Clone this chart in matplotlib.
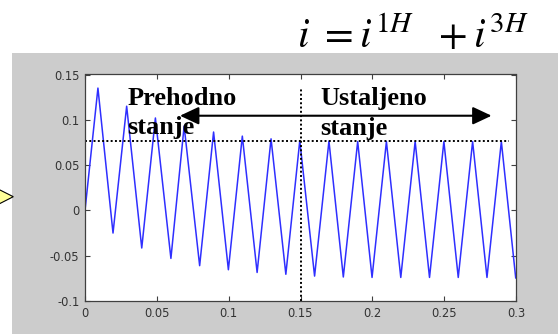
import matplotlib.pyplot as plt
from matplotlib.patches import FancyArrowPatch, ArrowStyle, Polygon, Rectangle

# extremes of the current waveform (time in s, current)
t_points = [0.0, 0.009, 0.0195, 0.029, 0.0395, 0.049, 0.0598, 0.069, 0.0798,
            0.0895, 0.0998, 0.1095, 0.1198, 0.1295, 0.1398, 0.1495, 0.1598,
            0.1698, 0.1798, 0.1898, 0.1998, 0.2098, 0.2198, 0.2298, 0.2398,
            0.2498, 0.2598, 0.2698, 0.2798, 0.2898, 0.2998]
i_points = [0.0, 0.135, -0.025, 0.115, -0.0415, 0.102, -0.053, 0.093, -0.061,
            0.0865, -0.0655, 0.082, -0.0685, 0.079, -0.0705, 0.077, -0.0725,
            0.0765, -0.0735, 0.076, -0.074, 0.076, -0.074, 0.076, -0.074,
            0.076, -0.074, 0.076, -0.074, 0.076, -0.0745]

steady_level = 0.0765
split_time = 0.15
xticks = [0, 0.05, 0.1, 0.15, 0.2, 0.25, 0.3]
xtick_labels = ["0", "0.05", "0.1", "0.15", "0.2", "0.25", "0.3"]
yticks = [-0.1, -0.05, 0, 0.05, 0.1, 0.15]
ytick_labels = ["-0.1", "-0.05", "0", "0.05", "0.1", "0.15"]

plt.rcParams["mathtext.fontset"] = "stix"

W, H = 558, 334
fig = plt.figure(figsize=(W / 100, H / 100), dpi=100)
fig.patch.set_facecolor("white")

# matlab figure background
fig.patches.append(Rectangle((12 / W, 0), 1 - 12 / W, 1 - 52.7 / H,
                             transform=fig.transFigure, facecolor="#cccccc",
                             edgecolor="none", zorder=0))
# yellow pointer cut at the left edge
fig.patches.append(Polygon([(-3 / W, 1 - 188.5 / H), (13.3 / W, 1 - 196.7 / H),
                            (-3 / W, 1 - 205 / H)], closed=True,
                           transform=fig.transFigure, facecolor="#ffff99",
                           edgecolor="black", lw=0.8, zorder=1))

ax = fig.add_axes([85 / W, 1 - 301 / H, (516 - 85) / W, (301 - 74.5) / H])
ax.set_zorder(3)
ax.plot(t_points, i_points, color="#2f2fff", lw=1.1)
ax.plot([0, 0.2954], [steady_level, steady_level], color="black",
        lw=1.4, linestyle=(0, (1, 1.2)))
ax.plot([split_time, split_time], [-0.1, 0.135], color="black",
        lw=1.4, linestyle=(0, (1, 1.2)))

ax.set_xlim(0, 0.3)
ax.set_ylim(-0.1, 0.15)
ax.set_xticks(xticks)
ax.set_xticklabels(xtick_labels)
ax.set_yticks(yticks)
ax.set_yticklabels(ytick_labels)
ax.tick_params(direction="in", length=3.6, width=0.8, color="#404040",
               labelsize=8.3, labelcolor="#333333", top=True, right=True, pad=4)
for spine in ax.spines.values():
    spine.set_color("#404040")
    spine.set_linewidth(0.9)

arrow = FancyArrowPatch((0.0661, 0.1045), (0.283, 0.1045),
                        arrowstyle=ArrowStyle("<|-|>", head_length=11.5, head_width=5.4),
                        color="black", lw=1.5, shrinkA=0, shrinkB=0, mutation_scale=1)
ax.add_patch(arrow)

text_style = dict(family="Liberation Serif", weight="bold", fontsize=19,
                  ha="left", va="baseline")
ax.text(0.0293, 0.1167, "Prehodno", **text_style)
ax.text(0.0293, 0.0843, "stanje", **text_style)
ax.text(0.164, 0.1163, "Ustaljeno", **text_style)
ax.text(0.164, 0.0832, "stanje", **text_style)

fig.text(297 / W, 1 - 48 / H, r"$i\ =i^{1H}\ \ +i^{3H}$", fontsize=30,
         ha="left", va="baseline")

fig.savefig("out.png", dpi=100)
